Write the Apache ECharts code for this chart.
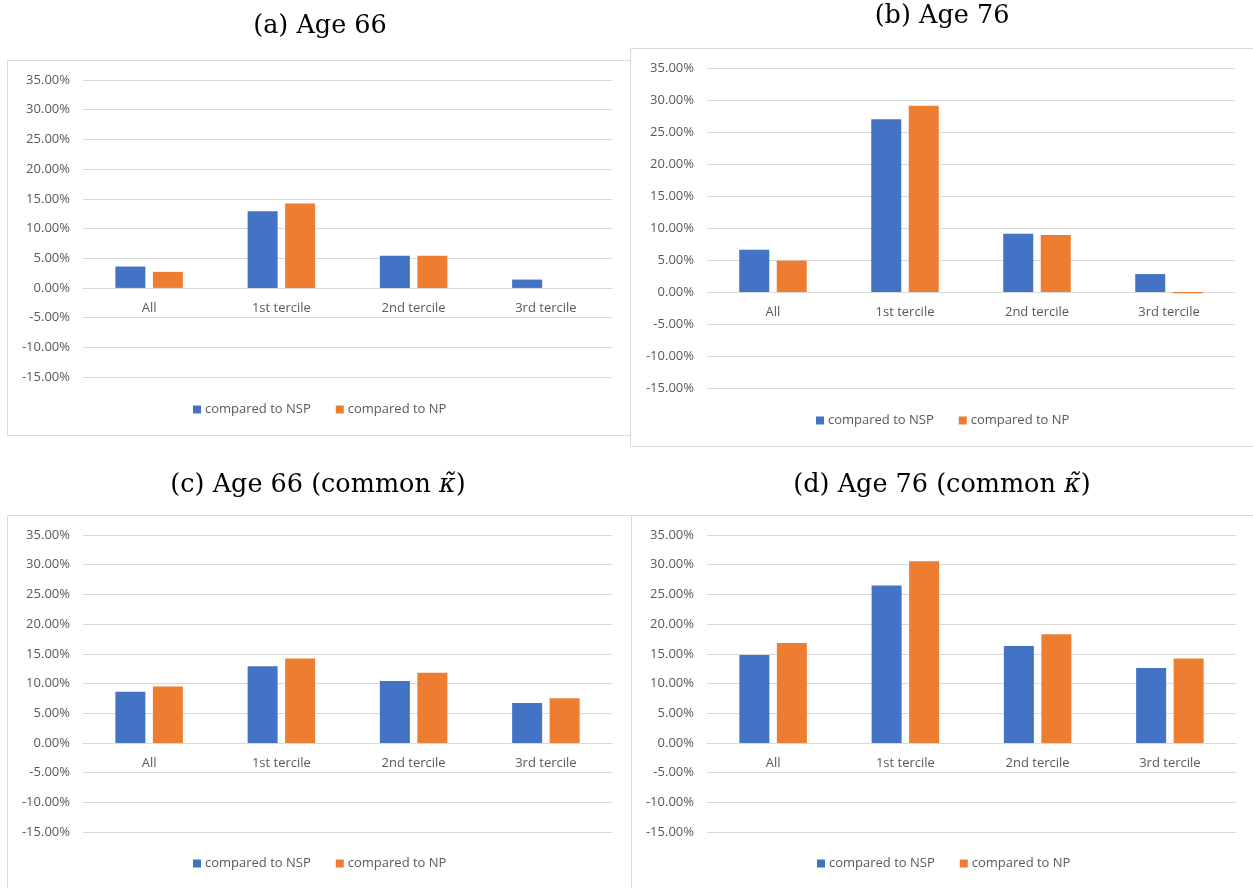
<!DOCTYPE html>
<html>
<head>
<meta charset="utf-8">
<script src="https://cdn.jsdelivr.net/npm/echarts@6/dist/echarts.min.js"></script>
<style>
html,body{margin:0;padding:0;background:#fff;}
#c{width:1253px;height:888px;}
</style>
</head>
<body>
<div id="c"></div>
<script>
// ---- data (percent) ----
const categories = ['All', '1st tercile', '2nd tercile', '3rd tercile'];
const seriesNames = ['compared to NSP', 'compared to NP'];
const yTicks = { min: -15, max: 35, step: 5 };

const a_NSP = [3.6, 12.9, 5.4, 1.4];
const a_NP  = [2.7, 14.2, 5.4, 0.0];
const b_NSP = [6.6, 27.0, 9.1, 2.8];
const b_NP  = [4.9, 29.1, 8.9, -0.2];
const c_NSP = [8.6, 12.9, 10.4, 6.7];
const c_NP  = [9.5, 14.2, 11.8, 7.5];
const d_NSP = [14.8, 26.5, 16.3, 12.6];
const d_NP  = [16.8, 30.6, 18.3, 14.2];

const panelTitles = ['(a) Age 66', '(b) Age 76', '(c) Age 66 (common {i|κ̃})', '(d) Age 76 (common {i|κ̃})'];
const panelData = [[a_NSP, a_NP], [b_NSP, b_NP], [c_NSP, c_NP], [d_NSP, d_NP]];

// ---- layout ----
const grids = [
  { left: 83, top: 80, width: 529, height: 297 },
  { left: 707, top: 68, width: 528, height: 320 },
  { left: 83, top: 535, width: 529, height: 297 },
  { left: 707, top: 535, width: 529, height: 297 }
];
const boxes = [
  { x: 7.5, y: 60.5, w: 623, h: 375 },
  { x: 630.5, y: 48.5, w: 640, h: 398 },
  { x: 7.5, y: 515.5, w: 624, h: 400 },
  { x: 631.5, y: 515.5, w: 640, h: 400 }
];
const titlePos = [[320, 26], [942, 16], [318, 485], [942, 485]];
const legendPos = [[193, 403], [816, 414], [193, 857], [817, 857]];
const colors = ['#4472C4', '#ED7D31'];
const axisFont = 'Open Sans';
const labelColor = '#595959';

const chart = echarts.init(document.getElementById('c'));

const option = {
  animation: false,
  color: colors,
  grid: grids.map(g => Object.assign({ containLabel: false }, g)),
  xAxis: grids.map((g, i) => ({
    type: 'category',
    gridIndex: i,
    data: categories,
    position: 'bottom',
    // place axis (line + labels) at the zero value
    offset: -g.height * (0 - yTicks.min) / (yTicks.max - yTicks.min),
    axisTick: { show: false },
    axisLine: { onZero: false, lineStyle: { color: '#d9d9d9', width: 1 } },
    axisLabel: { color: labelColor, fontFamily: axisFont, fontSize: 13, margin: 14 },
    splitLine: { show: false }
  })),
  yAxis: grids.map((g, i) => ({
    type: 'value',
    gridIndex: i,
    min: yTicks.min, max: yTicks.max, interval: yTicks.step,
    axisLine: { show: false },
    axisTick: { show: false },
    axisLabel: {
      color: labelColor, fontFamily: axisFont, fontSize: 13, margin: 13,
      formatter: v => v.toFixed(2) + '%'
    },
    splitLine: { lineStyle: { color: '#d9d9d9', width: 1 } }
  })),
  legend: legendPos.map(p => ({
    left: p[0], top: p[1],
    data: seriesNames,
    icon: 'rect',
    itemWidth: 8, itemHeight: 8,
    itemGap: 25,
    padding: 0,
    textStyle: { color: labelColor, fontFamily: axisFont, fontSize: 13, padding: [0, 0, 0, -1] }
  })),
  series: [],
  graphic: []
};

panelData.forEach((pd, i) => {
  pd.forEach((vals, k) => {
    option.series.push({
      type: 'bar',
      name: seriesNames[k],
      xAxisIndex: i, yAxisIndex: i,
      data: vals,
      barWidth: 30,
      barGap: '25%',
      itemStyle: { color: colors[k] }
    });
  });
});

boxes.forEach(b => {
  option.graphic.push({
    type: 'rect', silent: true, z: -10,
    shape: { x: b.x, y: b.y, width: b.w, height: b.h },
    style: { fill: 'none', stroke: '#d9d9d9', lineWidth: 1 }
  });
});
panelTitles.forEach((t, i) => {
  option.graphic.push({
    type: 'text', silent: true,
    x: titlePos[i][0], y: titlePos[i][1],
    style: {
      text: t,
      fill: '#000',
      font: '25.5px "DejaVu Serif"',
      textAlign: 'center', textVerticalAlign: 'middle',
      rich: { i: { fontFamily: 'DejaVu Serif', fontStyle: 'italic', fontSize: 25.5, fill: '#000' } }
    }
  });
});

chart.setOption(option);
</script>
</body>
</html>
